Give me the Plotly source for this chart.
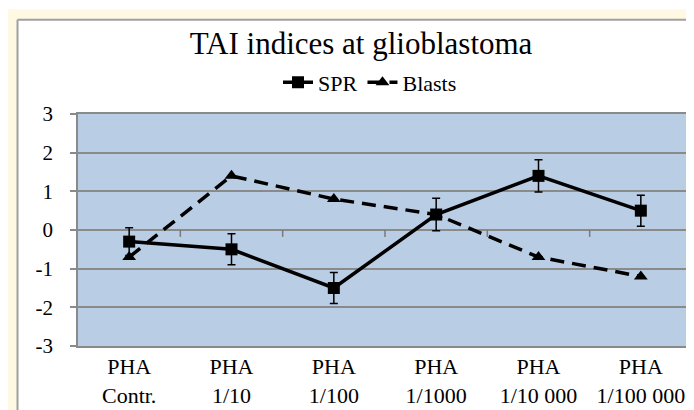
import plotly.graph_objects as go

categories = ["PHA<br>Contr.", "PHA<br>1/10", "PHA<br>1/100", "PHA<br>1/1000", "PHA<br>1/10 000", "PHA<br>1/100 000"]
spr = [-0.3, -0.5, -1.5, 0.4, 1.4, 0.5]
spr_err = [0.36, 0.4, 0.4, 0.42, 0.42, 0.4]
blasts = [-0.7, 1.4, 0.8, 0.4, -0.7, -1.2]
y_ticks = [-3, -2, -1, 0, 1, 2, 3]
y_tick_text = ["-3", "-2", "-1", "0", "1", "2", "3"]

positions = list(range(len(categories)))
boundary_ticks = [p + 0.5 for p in positions]

W, H = 694, 410
L, R, T, B = 70, 10, 106, 69
pw, ph = W - L - R, H - T - B

def px_x(p):
    return (p - L) / pw

def px_y(p):
    return (H - B - p) / ph

GRAY = "#8A8A8A"
CREAM = "#FFF9E3"
FONT = "'Liberation Serif', 'Times New Roman', Tinos, 'DejaVu Serif', serif"
TICK_LEN = 7 * 6 / ph  # 7 px expressed in y-data units (range spans 6)

tick_x, tick_y = [], []
for b in boundary_ticks:
    tick_x += [b, b, None]
    tick_y += [0, -TICK_LEN, None]

fig = go.Figure()
# category-boundary tick marks hanging below the y=0 axis line
fig.add_trace(go.Scatter(
    x=tick_x, y=tick_y, mode="lines", connectgaps=False,
    line=dict(color="#7A7A7A", width=1.5),
    showlegend=False, hoverinfo="skip"))
fig.add_trace(go.Scatter(
    x=positions, y=spr, name="SPR", mode="lines+markers",
    line=dict(color="black", width=3.5),
    marker=dict(symbol="square", size=12, color="black"),
    error_y=dict(type="data", array=spr_err, color="black", thickness=1.5, width=4),
))
fig.add_trace(go.Scatter(
    x=positions, y=blasts, name="Blasts", mode="lines+markers",
    line=dict(color="black", width=3.5, dash="14px,8px"),
    marker=dict(symbol="triangle-up", size=12, color="black"),
))

shapes = [
    dict(type="rect", xref="paper", yref="paper", x0=px_x(0), x1=px_x(W), y0=px_y(10), y1=px_y(0),
         fillcolor=CREAM, line=dict(width=0), layer="below"),
    dict(type="rect", xref="paper", yref="paper", x0=px_x(0), x1=px_x(9), y0=px_y(H), y1=px_y(0),
         fillcolor=CREAM, line=dict(width=0), layer="below"),
    dict(type="line", xref="paper", yref="paper", x0=px_x(9.5), x1=px_x(W), y0=px_y(10.5), y1=px_y(10.5),
         line=dict(color="#A0A0A0", width=2)),
    dict(type="line", xref="paper", yref="paper", x0=px_x(9.5), x1=px_x(9.5), y0=px_y(H), y1=px_y(10.5),
         line=dict(color="#A0A0A0", width=2)),
]

fig.update_layout(
    width=W, height=H,
    margin=dict(l=L, r=R, t=T, b=B, pad=0),
    paper_bgcolor="white",
    plot_bgcolor="#B9CDE5",
    font=dict(family=FONT, color="black", size=21),
    title=dict(text="TAI indices at glioblastoma", font=dict(size=31, family=FONT, color="black"),
               x=px_x(353), xref="paper", xanchor="center", y=1 - 35 / H, yref="container", yanchor="middle"),
    legend=dict(orientation="h", x=px_x(362), xanchor="center", y=px_y(74), yanchor="middle",
                font=dict(size=22, family=FONT), bgcolor="rgba(0,0,0,0)", itemwidth=30,
                tracegroupgap=0),
    showlegend=True,
    xaxis=dict(range=[-0.5, 5.5], tickmode="array", tickvals=positions, ticktext=categories,
               showgrid=False, zeroline=False, ticks="",
               showline=True, mirror=True, linecolor=GRAY, linewidth=1.5,
               tickfont=dict(size=22, family=FONT)),
    yaxis=dict(range=[-3, 3], tickmode="array", tickvals=y_ticks, ticktext=y_tick_text,
               showgrid=True, gridcolor=GRAY, gridwidth=1.5,
               zeroline=False, showline=True, linecolor=GRAY, linewidth=1.5,
               ticks="outside", ticklen=6, tickwidth=1.5, tickcolor=GRAY,
               tickfont=dict(size=21, family=FONT), ticklabelstandoff=13),
    shapes=shapes,
)

fig.write_html("out.html")
